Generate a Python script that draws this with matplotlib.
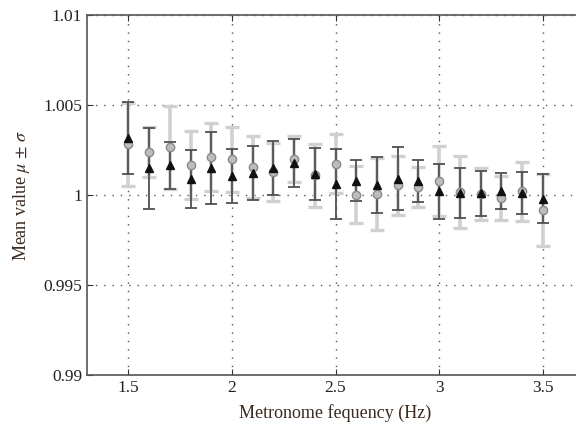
import matplotlib
matplotlib.use('Agg')
import matplotlib.pyplot as plt
import numpy as np

plt.rcParams['font.family'] = ['Liberation Serif', 'DejaVu Serif']
plt.rcParams['mathtext.fontset'] = 'stix'

# metronome frequencies (Hz)
freq = [1.5, 1.6, 1.7, 1.8, 1.9, 2.0, 2.1, 2.2, 2.3, 2.4, 2.5,
        2.6, 2.7, 2.8, 2.9, 3.0, 3.1, 3.2, 3.3, 3.4, 3.5]

# triangles (black) with dark error bars
tri_mean = [1.00317, 1.0015, 1.00165, 1.0009, 1.0015, 1.00104, 1.00124, 1.0015,
            1.00178, 1.00115, 1.0006, 1.0008, 1.00054, 1.0009, 1.00078, 1.0002,
            1.00012, 1.0001, 1.0002, 1.00013, 0.9998]
tri_std = [0.0020, 0.00225, 0.0013, 0.0016, 0.0020, 0.0015, 0.0015, 0.0015,
           0.00135, 0.00145, 0.00195, 0.00115, 0.00155, 0.00175, 0.00115, 0.00155,
           0.0014, 0.00125, 0.0010, 0.00117, 0.00137]

# circles (gray) with light error bars
circ_mean = [1.00282, 1.0024, 1.00265, 1.00168, 1.0021, 1.00198, 1.00156, 1.00128,
             1.0020, 1.0011, 1.00174, 1.00002, 1.00004, 1.00054, 1.00043, 1.00076,
             1.00017, 1.00007, 0.99983, 1.0002, 0.99915]
circ_std = [0.0023, 0.0014, 0.0023, 0.0019, 0.0019, 0.0018, 0.0017, 0.0016,
            0.0013, 0.00175, 0.00165, 0.0016, 0.0020, 0.00165, 0.0011, 0.00195,
            0.0020, 0.00145, 0.00123, 0.00165, 0.0020]

fig = plt.figure(figsize=(5.76, 4.30), dpi=100)
ax = fig.add_axes([0.151, 0.128, 0.863, 0.837])

ax.errorbar(freq, circ_mean, yerr=circ_std, fmt='none', ecolor='#d0d0d0',
            elinewidth=2.6, capsize=5, capthick=2.4, zorder=2)
ax.errorbar(freq, tri_mean, yerr=tri_std, fmt='none', ecolor='#505050',
            elinewidth=1.3, capsize=4, capthick=1.3, zorder=3)
ax.plot(freq, circ_mean, 'o', ms=6, mfc='#bdbdbd', mec='#8a8a8a', mew=1.0,
        ls='none', zorder=4)
ax.plot(freq, tri_mean, '^', ms=6, mfc='#111111', mec='#111111',
        ls='none', zorder=5)

ax.set_xlim(1.3, 3.7)
ax.set_ylim(0.99, 1.01)
ax.set_xticks([1.5, 2, 2.5, 3, 3.5])
ax.set_xticklabels(['1.5', '2', '2.5', '3', '3.5'])
ax.set_yticks([0.99, 0.995, 1.0, 1.005, 1.01])
ax.set_yticklabels(['0.99', '0.995', '1', '1.005', '1.01'])
ax.tick_params(direction='in', top=True, right=True, length=4,
               labelsize=12.5, colors='#333333', labelcolor='#222222')
ax.grid(True, ls=(0, (1, 5)), color='#555555', lw=1.0)
for s in ax.spines.values():
    s.set_color('#555555')
    s.set_linewidth(1.2)

ax.set_xlabel('Metronome fequency (Hz)', fontsize=13, color='#3a2a20', labelpad=6)
ax.set_ylabel(r'Mean value $\mu$ $\pm$ $\sigma$', fontsize=13, color='#3a2a20', labelpad=8)

fig.savefig('out.png', dpi=100)
